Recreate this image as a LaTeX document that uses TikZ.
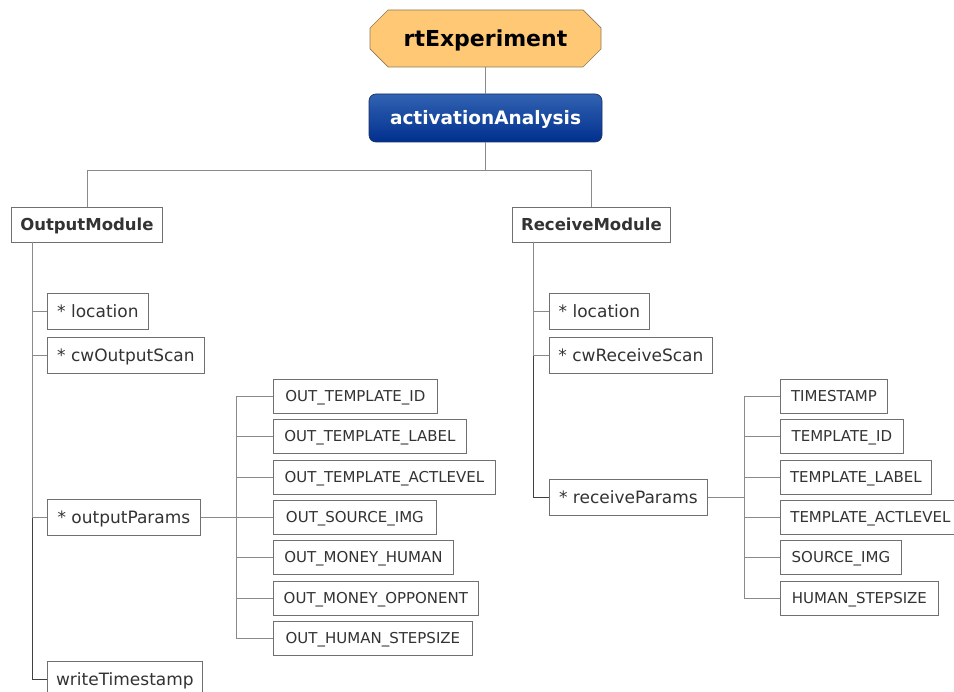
\documentclass[tikz,border=0pt]{standalone}
\usepackage{fontspec}
\setmainfont{DejaVu Sans}
\usetikzlibrary{shapes.misc}
\definecolor{txt}{HTML}{333333}
\definecolor{boxline}{HTML}{707070}
\definecolor{wire}{HTML}{8A8A8A}
\definecolor{stem}{HTML}{404040}
\definecolor{rootfill}{HTML}{FFC875}
\definecolor{rootline}{HTML}{8C7A5A}
\definecolor{bluetop}{HTML}{3262B2}
\definecolor{bluebot}{HTML}{00308E}
\definecolor{blueline}{HTML}{1C2F66}
\tikzset{
  rootbox/.style={chamfered rectangle, chamfered rectangle xsep=10pt,
    chamfered rectangle ysep=10pt, draw=rootline, fill=rootfill, line width=0.7pt,
    minimum width=231, minimum height=57, inner sep=0pt,
    text height=16pt, text depth=0pt,
    font=\fontsize{22}{26}\selectfont\bfseries, text=black},
  bluebox/.style={rounded corners=7pt, draw=blueline, line width=0.7pt,
    top color=bluetop, bottom color=bluebot,
    minimum width=233, minimum height=48, inner sep=0pt,
    text height=13.5pt, text depth=0pt,
    font=\fontsize{18.5}{22}\selectfont\bfseries, text=white},
  modbox/.style={draw=boxline, fill=white, line width=0.8pt, anchor=west,
    minimum height=35, inner sep=0pt, text height=12pt, text depth=0pt,
    font=\fontsize{16.5}{20}\selectfont\bfseries, text=txt},
  leaf/.style={draw=boxline, fill=white, line width=0.8pt, anchor=west,
    minimum height=36, inner sep=0pt, text height=12.5pt, text depth=0pt,
    font=\fontsize{17}{20}\selectfont, text=txt},
  param/.style={draw=boxline, fill=white, line width=0.8pt, anchor=west,
    minimum height=34, inner sep=0pt, text height=11pt, text depth=0pt,
    font=\fontsize{15}{18}\selectfont, text=txt},
  wireline/.style={draw=wire, line width=0.8pt},
  stemline/.style={draw=stem, line width=0.9pt}
}
\begin{document}
\begin{tikzpicture}[x=1pt,y=-1pt]
\useasboundingbox (0,0) rectangle (954,692);
\fill[white] (0,0) rectangle (954,692);

% top of the tree
\node[rootbox] (rt) at (485.5,38.5) {rtExperiment};
\node[bluebox] (aa) at (485.5,118) {activationAnalysis};
\node[modbox, minimum width=151] (om) at (11,224.5) {OutputModule};
\node[modbox, minimum width=158] (rm) at (512,224.5) {ReceiveModule};
\coordinate (hub) at (485.5,170);

\draw[wireline] (rt.south) -- (aa.north);
\draw[wireline] (aa.south) -- (hub) -| (om.north);
\draw[wireline] (hub) -| (rm.north);

% OutputModule branch
\node[leaf, minimum width=101] (oloc) at (47,311) {* location};
\node[leaf, minimum width=157] (ocw)  at (47,355) {* cwOutputScan};
\node[leaf, minimum width=153] (op)   at (47,517) {* outputParams};
\node[leaf, minimum width=155] (wts)  at (47,679) {writeTimestamp};
\coordinate (omT) at (32,242);
\draw[stemline] (omT) |- (wts.west);
\draw[wireline] (omT) |- (oloc.west);
\draw[wireline] (omT) |- (ocw.west);
\draw[wireline] (omT) |- (op.west);

% output parameters
\node[param, minimum width=164] (o1) at (273,396) {OUT\_TEMPLATE\_ID};
\node[param, minimum width=193] (o2) at (273,436.5) {OUT\_TEMPLATE\_LABEL};
\node[param, minimum width=222] (o3) at (273,477) {OUT\_TEMPLATE\_ACTLEVEL};
\node[param, minimum width=163] (o4) at (273,517) {OUT\_SOURCE\_IMG};
\node[param, minimum width=180] (o5) at (273,557.5) {OUT\_MONEY\_HUMAN};
\node[param, minimum width=205] (o6) at (273,598) {OUT\_MONEY\_OPPONENT};
\node[param, minimum width=199] (o7) at (273,638) {OUT\_HUMAN\_STEPSIZE};
\coordinate (ofork) at (236,517);
\draw[wireline] (op.east) -- (o4.west);
\foreach \k in {o1,o2,o3,o5,o6,o7} \draw[wireline] (ofork) |- (\k.west);

% ReceiveModule branch
\node[leaf, minimum width=100] (rloc) at (549,311) {* location};
\node[leaf, minimum width=163] (rcw)  at (549,355) {* cwReceiveScan};
\node[leaf, minimum width=158] (rp)   at (549,497) {* receiveParams};
\coordinate (rmT) at (533,242);
\draw[stemline] (rmT) |- (rp.west);
\draw[wireline] (rmT) |- (rloc.west);
\draw[wireline] (rmT) |- (rcw.west);

% receive parameters
\node[param, minimum width=107] (r1) at (780,396) {TIMESTAMP};
\node[param, minimum width=123] (r2) at (780,436.5) {TEMPLATE\_ID};
\node[param, minimum width=151] (r3) at (780,477) {TEMPLATE\_LABEL};
\node[param, minimum width=180] (r4) at (780,517) {TEMPLATE\_ACTLEVEL};
\node[param, minimum width=121] (r5) at (780,557.5) {SOURCE\_IMG};
\node[param, minimum width=158] (r6) at (780,598) {HUMAN\_STEPSIZE};
\coordinate (rfork) at (744,497);
\draw[wireline] (rp.east) -- (rfork);
\foreach \k in {r1,r2,r3,r4,r5,r6} \draw[wireline] (rfork) |- (\k.west);
\end{tikzpicture}
\end{document}
